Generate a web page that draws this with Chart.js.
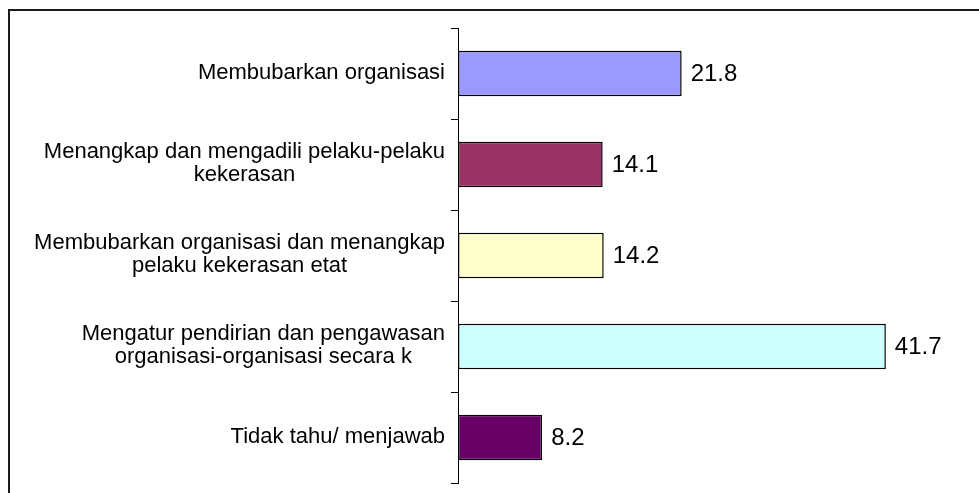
<!DOCTYPE html>
<html>
<head>
<meta charset="utf-8">
<script src="https://cdn.jsdelivr.net/npm/chart.js@4/dist/chart.umd.min.js"></script>
<style>
  html, body { margin: 0; padding: 0; background: #fff; }
  #frame {
    position: absolute; left: 8px; top: 9px; right: 0; bottom: 0;
    border-top: 2px solid #1a1a1a; border-left: 2px solid #1a1a1a;
  }
  #wrap { position: absolute; left: 0; top: 0; width: 979px; height: 493px; }
</style>
</head>
<body>
<div id="frame"></div>
<div id="wrap"><canvas id="chart"></canvas></div>
<script>
var categories = [
  ['Membubarkan organisasi'],
  ['Menangkap dan mengadili pelaku-pelaku', 'kekerasan'],
  ['Membubarkan organisasi dan menangkap', 'pelaku kekerasan etat'],
  ['Mengatur pendirian dan pengawasan', 'organisasi-organisasi secara k'],
  ['Tidak tahu/ menjawab']
];
var values = [21.8, 14.1, 14.2, 41.7, 8.2];
var barColors = ['#9999ff', '#993366', '#ffffcc', '#ccffff', '#660066'];

var labelFont = '22px "Liberation Sans", Arial, sans-serif';
var valueFont = '24px "Liberation Sans", Arial, sans-serif';

// category labels: block right-aligned against the axis, lines centred in the block
var categoryLabels = {
  id: 'categoryLabels',
  afterDraw: function(chart) {
    var ctx = chart.ctx;
    var scale = chart.scales.y;
    ctx.save();
    ctx.font = labelFont;
    ctx.fillStyle = '#000';
    ctx.textAlign = 'center';
    ctx.textBaseline = 'middle';
    categories.forEach(function(lines, i) {
      var y = scale.getPixelForTick(i);
      var w = 0;
      lines.forEach(function(l) { w = Math.max(w, ctx.measureText(l).width); });
      var cx = scale.right - 13 - w / 2;
      lines.forEach(function(l, j) {
        ctx.fillText(l, cx, y - 1 + (j - (lines.length - 1) / 2) * 23);
      });
    });
    ctx.restore();
  }
};

// value labels at the end of each bar
var valueLabels = {
  id: 'valueLabels',
  afterDatasetsDraw: function(chart) {
    var ctx = chart.ctx;
    var meta = chart.getDatasetMeta(0);
    ctx.save();
    ctx.font = valueFont;
    ctx.fillStyle = '#000';
    ctx.textAlign = 'left';
    ctx.textBaseline = 'middle';
    meta.data.forEach(function(bar, i) {
      ctx.fillText(values[i].toFixed(1), bar.x + 9, bar.y + 1);
    });
    ctx.restore();
  }
};

new Chart(document.getElementById('chart'), {
  type: 'bar',
  data: {
    labels: categories,
    datasets: [{
      data: values,
      backgroundColor: barColors,
      borderColor: '#000',
      borderWidth: 1.5,
      borderSkipped: false,
      categoryPercentage: 1,
      barPercentage: 0.5
    }]
  },
  options: {
    indexAxis: 'y',
    responsive: true,
    maintainAspectRatio: false,
    animation: false,
    layout: { padding: { top: 28, bottom: 10, right: 8, left: 0 } },
    plugins: { legend: { display: false }, tooltip: { enabled: false } },
    scales: {
      x: { display: false, min: 0, max: 50 },
      y: {
        afterFit: function(scale) { scale.width = 458; },
        border: { display: true, color: '#000', width: 1 },
        grid: { drawOnChartArea: false, tickLength: 7, color: '#000', offset: true },
        ticks: { display: false }
      }
    }
  },
  plugins: [categoryLabels, valueLabels]
});
</script>
</body>
</html>
